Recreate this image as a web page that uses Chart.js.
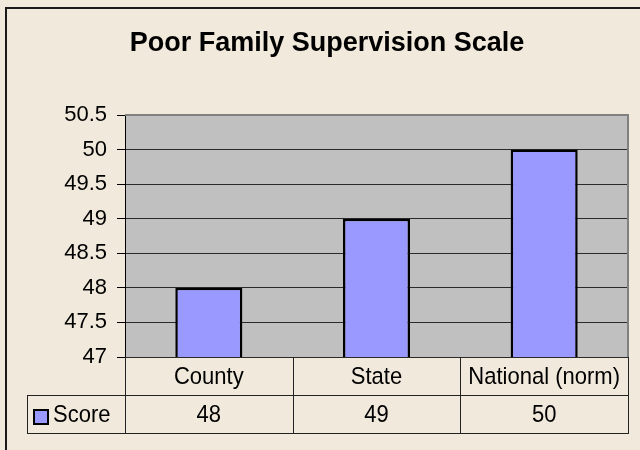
<!DOCTYPE html>
<html>
<head>
<meta charset="utf-8">
<script src="https://cdn.jsdelivr.net/npm/chart.js@4.4.1/dist/chart.umd.min.js"></script>
<style>
  html, body { margin: 0; padding: 0; background: #F1E9DB; }
  canvas { display: block; }
</style>
</head>
<body>
<canvas id="chart" width="640" height="450"></canvas>
<script>
const chartTitle = "Poor Family Supervision Scale";
const categories = ["County", "State", "National (norm)"];
const seriesName = "Score";
const scores = [48, 49, 50];
const yTicks = [47, 47.5, 48, 48.5, 49, 49.5, 50, 50.5];

const FONT = "'Liberation Sans', Arial, sans-serif";
const barColor = "#9999FF";

// text in the source is a bit taller than wide, stretch it slightly
function tallText(ctx, text, x, y, k) {
    ctx.save();
    ctx.translate(x, y);
    ctx.scale(1, k);
    ctx.fillText(text, 0, 0);
    ctx.restore();
}

// draws the excel look: title, frame, gray plot area and the data table
const excelChrome = {
    id: "excelChrome",
    beforeDraw(chart) {
        const ctx = chart.ctx;
        const area = chart.chartArea;
        ctx.save();
        ctx.fillStyle = "#F1E9DB";
        ctx.fillRect(0, 0, chart.width, chart.height);
        ctx.fillStyle = "#1a1a1a";
        ctx.fillRect(5, 7, 2, chart.height - 7);
        ctx.fillRect(5, 7, chart.width - 5, 2);

        ctx.fillStyle = "#C0C0C0";
        ctx.fillRect(area.left, area.top, area.right - area.left, area.bottom - area.top);

        ctx.fillStyle = "#000";
        ctx.font = "bold 27px " + FONT;
        ctx.textAlign = "center";
        ctx.textBaseline = "alphabetic";
        tallText(ctx, chartTitle, 327, 51, 1.05);
        ctx.restore();
    },
    afterDraw(chart) {
        const ctx = chart.ctx;
        const area = chart.chartArea;
        const xs = chart.scales.x;
        const colW = (area.right - area.left) / categories.length;
        const rowH = 38;
        const top = area.bottom;
        const mid = top + rowH;
        const bottom = top + rowH * 2;
        const tableLeft = 27;

        ctx.save();
        // plot area border
        ctx.strokeStyle = "#808080";
        ctx.lineWidth = 2;
        ctx.beginPath();
        ctx.moveTo(area.left, area.top);
        ctx.lineTo(area.right, area.top);
        ctx.lineTo(area.right, area.bottom);
        ctx.stroke();

        // table grid
        ctx.strokeStyle = "#222";
        ctx.lineWidth = 1;
        ctx.beginPath();
        ctx.moveTo(Math.round(area.left) + 0.5, top);
        ctx.lineTo(Math.round(area.left) + 0.5, bottom);
        categories.forEach((c, i) => {
            const xr = Math.round(xs.getPixelForValue(i) + colW / 2) + 0.5;
            ctx.moveTo(xr, top);
            ctx.lineTo(xr, bottom);
        });
        ctx.moveTo(tableLeft + 0.5, mid);
        ctx.lineTo(tableLeft + 0.5, bottom);
        ctx.moveTo(tableLeft, Math.round(mid) + 0.5);
        ctx.lineTo(area.right + 1, Math.round(mid) + 0.5);
        ctx.moveTo(tableLeft, Math.round(bottom) + 0.5);
        ctx.lineTo(area.right + 1, Math.round(bottom) + 0.5);
        ctx.stroke();

        // table text
        ctx.fillStyle = "#000";
        ctx.font = "22px " + FONT;
        ctx.textAlign = "center";
        ctx.textBaseline = "middle";
        categories.forEach((c, i) => {
            const xc = xs.getPixelForValue(i);
            tallText(ctx, c, xc, top + rowH / 2 + 1, 1.12);
            tallText(ctx, String(scores[i]), xc, mid + rowH / 2 + 1, 1.12);
        });

        // legend key
        ctx.fillStyle = barColor;
        ctx.fillRect(33, mid + 14, 16, 16);
        ctx.strokeStyle = "#000";
        ctx.lineWidth = 2;
        ctx.strokeRect(34, mid + 15, 14, 14);
        ctx.fillStyle = "#000";
        ctx.textAlign = "left";
        tallText(ctx, seriesName, 53, mid + rowH / 2 + 1, 1.12);
        ctx.restore();
    }
};

const ctx = document.getElementById("chart").getContext("2d");
new Chart(ctx, {
    type: "bar",
    data: {
        labels: categories,
        datasets: [{
            label: seriesName,
            data: scores,
            backgroundColor: barColor,
            borderColor: "#000",
            borderWidth: 2.5,
            borderSkipped: false,
            barPercentage: 0.4,
            categoryPercentage: 1
        }]
    },
    options: {
        responsive: false,
        animation: false,
        layout: { padding: { top: 115, right: 12, bottom: 93, left: 0 } },
        plugins: {
            legend: { display: false },
            title: { display: false },
            tooltip: { enabled: false }
        },
        scales: {
            x: { display: false },
            y: {
                min: 47,
                max: 50.5,
                afterBuildTicks: axis => { axis.ticks = yTicks.map(v => ({ value: v })); },
                afterFit: axis => { axis.width = 125; },
                ticks: {
                    color: "#000",
                    padding: 10,
                    font: { family: FONT, size: 22 },
                    callback: v => String(v)
                },
                grid: {
                    color: "#2a2a2a",
                    tickColor: "#000",
                    tickLength: 8,
                    lineWidth: 1
                },
                border: { display: true, color: "#000", width: 1 }
            }
        }
    },
    plugins: [excelChrome]
});
</script>
</body>
</html>
